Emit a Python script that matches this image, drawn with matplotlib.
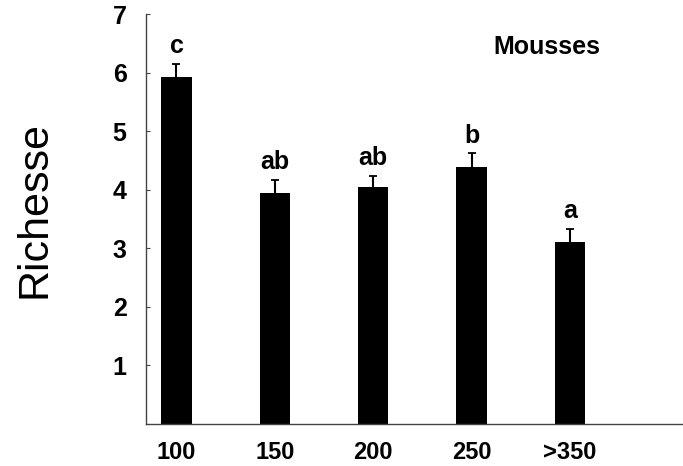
import matplotlib
matplotlib.use('Agg')
import matplotlib.pyplot as plt

# data
categories = ['100', '150', '200', '250', '>350']
richesse = [5.93, 3.95, 4.05, 4.38, 3.11]
erreur = [0.22, 0.22, 0.19, 0.24, 0.22]
lettres = ['c', 'ab', 'ab', 'b', 'a']
yticks = [1, 2, 3, 4, 5, 6, 7]

plt.rcParams['font.family'] = ['Liberation Sans', 'DejaVu Sans']

fig = plt.figure(figsize=(6.83, 4.66), dpi=100)
ax = fig.add_axes([146 / 683, 1 - 424 / 466, 1 - 146 / 683, (424 - 14) / 466])

x = list(range(len(categories)))
ax.bar(x, richesse, width=0.31, color='black', zorder=2)
# only the upper half of the error bars
_, caps, _ = ax.errorbar(x, richesse, yerr=[[0] * len(x), erreur], fmt='none',
                         ecolor='black', elinewidth=1.5, capsize=3,
                         capthick=1.3, zorder=1)
caps[0].set_visible(False)

for xi, v, e, l in zip(x, richesse, erreur, lettres):
    ax.annotate(l, (xi, v + e), xytext=(0, 4), textcoords='offset points',
                ha='center', va='bottom', fontsize=18, fontweight='bold')

ax.text(3.77, 6.43, 'Mousses', ha='center', va='center', fontsize=18,
        fontweight='bold')

ax.set_xlim(-0.31, 5.15)
ax.set_ylim(0, 7)
ax.set_xticks(x)
ax.set_xticklabels(categories, fontsize=17, fontweight='bold')
ax.set_yticks(yticks)
ax.set_yticklabels([str(t) for t in yticks], fontsize=18, fontweight='bold')
ax.tick_params(axis='x', length=0, pad=12)
ax.tick_params(axis='y', direction='in', length=3, width=0.8, color='#444444', pad=14)

for s in ['top', 'right']:
    ax.spines[s].set_visible(False)
ax.spines['left'].set_color('#444444')
ax.spines['bottom'].set_color('#444444')
ax.spines['left'].set_linewidth(1)
ax.spines['bottom'].set_linewidth(1)

fig.text(35 / 683, 1 - 210 / 466, 'Richesse', rotation=90, ha='center',
         va='center', fontsize=31)

fig.savefig('out.png', dpi=100)
